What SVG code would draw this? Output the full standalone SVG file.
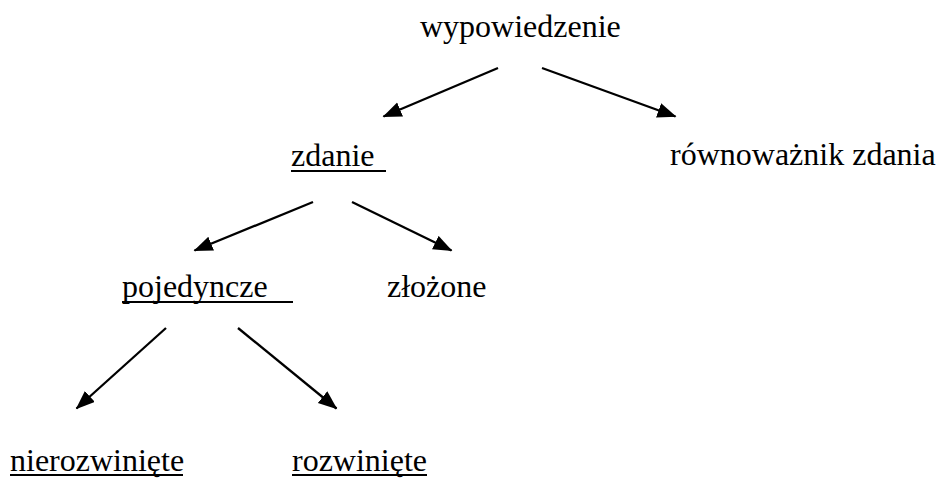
<svg xmlns="http://www.w3.org/2000/svg" width="938" height="479" viewBox="0 0 938 479">
<style>
  text { font-family: 'Liberation Serif', 'Times New Roman', serif; font-size: 32px; fill: #000; }
  .ul { stroke: #000; stroke-width: 2; }
  .arrow { stroke: #000; stroke-width: 2.3; fill: none; marker-end: url(#ah); }
</style>
<defs>
  <marker id="ah" markerUnits="userSpaceOnUse" markerWidth="22" markerHeight="18" refX="18" refY="7.5" orient="auto">
    <path d="M0,0 L19,7.5 L0,15 Z" fill="#000"/>
  </marker>
</defs>
<rect width="938" height="479" fill="#fff"/>
<g id="connectors">
  <line class="arrow" x1="498" y1="68" x2="383.5" y2="116.5"/>
  <line class="arrow" x1="542" y1="68" x2="675.5" y2="116.5"/>
  <line class="arrow" x1="313" y1="202" x2="194.5" y2="250.5"/>
  <line class="arrow" x1="352" y1="202" x2="451.5" y2="250.5"/>
  <line class="arrow" x1="166" y1="328" x2="76.5" y2="408.5"/>
  <line class="arrow" x1="238" y1="328" x2="336.5" y2="408.5"/>
</g>
<g id="node-wypowiedzenie">
  <text x="420" y="37">wypowiedzenie</text>
</g>
<g id="node-zdanie">
  <text x="291" y="166">zdanie</text>
  <line class="ul" x1="291" y1="171" x2="386" y2="171"/>
</g>
<g id="node-rownowaznik">
  <text x="670" y="165">równoważnik zdania</text>
</g>
<g id="node-pojedyncze">
  <text x="122" y="297">pojedyncze</text>
  <line class="ul" x1="122" y1="302" x2="293" y2="302"/>
</g>
<g id="node-zlozone">
  <text x="387" y="297">złożone</text>
</g>
<g id="node-nierozwiniete">
  <text x="10" y="471">nierozwinięte</text>
  <line class="ul" x1="10" y1="475" x2="183" y2="475"/>
</g>
<g id="node-rozwiniete">
  <text x="292" y="471">rozwinięte</text>
  <line class="ul" x1="292" y1="475" x2="427" y2="475"/>
</g>
</svg>
